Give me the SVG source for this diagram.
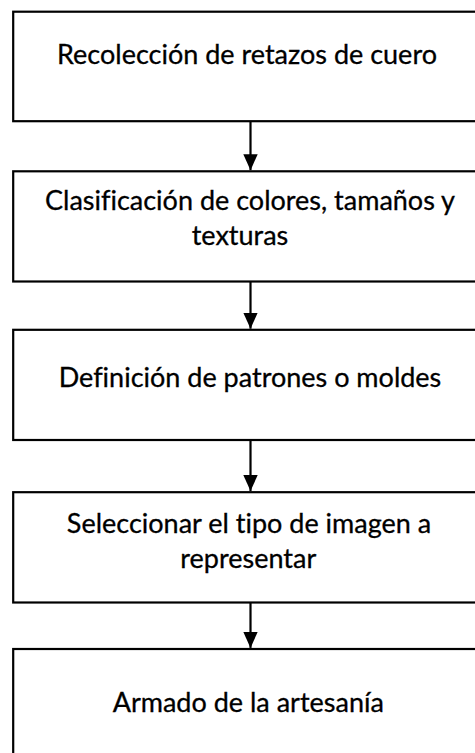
<svg xmlns="http://www.w3.org/2000/svg" width="475" height="753" viewBox="0 0 475 753">
  <defs>
    <marker id="ah" markerUnits="userSpaceOnUse" markerWidth="17" markerHeight="15" refX="16" refY="7.2" orient="auto">
      <path d="M0,0 L16,7.2 L0,14.4 Z" fill="#000"/>
    </marker>
  </defs>
  <style>
    .box { fill: #fff; stroke: #000; stroke-width: 2.2; }
    .lbl { font-family: Lato, "Open Sans", sans-serif; font-size: 27px; fill: #000; stroke: #000; stroke-width: 0.3; text-anchor: middle; font-variant-ligatures: none; font-feature-settings: "liga" 0; }
    .conn { stroke: #000; stroke-width: 2.2; fill: none; marker-end: url(#ah); }
  </style>
  <rect width="475" height="753" fill="#fff"/>
  <g id="n1">
    <rect class="box" x="13.2" y="11.7" width="474" height="109.5"/>
    <text class="lbl" x="247" y="64">Recolección de retazos de cuero</text>
  </g>
  <g id="n2">
    <rect class="box" x="13.2" y="171.3" width="474" height="110.2"/>
    <text class="lbl" x="250" y="210">Clasificación de colores, tamaños y</text>
    <text class="lbl" x="240" y="245">texturas</text>
  </g>
  <g id="n3">
    <rect class="box" x="13.2" y="329.8" width="474" height="110.2"/>
    <text class="lbl" x="250" y="386.7">Definición de patrones o moldes</text>
  </g>
  <g id="n4">
    <rect class="box" x="13.2" y="492.2" width="474" height="110.3"/>
    <text class="lbl" x="249" y="533.3">Seleccionar el tipo de imagen a</text>
    <text class="lbl" x="248.3" y="568.3">representar</text>
  </g>
  <g id="n5">
    <rect class="box" x="13.2" y="649" width="474" height="110"/>
    <text class="lbl" x="248.3" y="711.7">Armado de la artesanía</text>
  </g>
  <g id="connectors">
    <line class="conn" x1="250.5" y1="121.2" x2="250.5" y2="170.2"/>
    <line class="conn" x1="250.5" y1="281.5" x2="250.5" y2="328.7"/>
    <line class="conn" x1="250.5" y1="440" x2="250.5" y2="491.1"/>
    <line class="conn" x1="250.5" y1="602.5" x2="250.5" y2="647.9"/>
  </g>
</svg>
